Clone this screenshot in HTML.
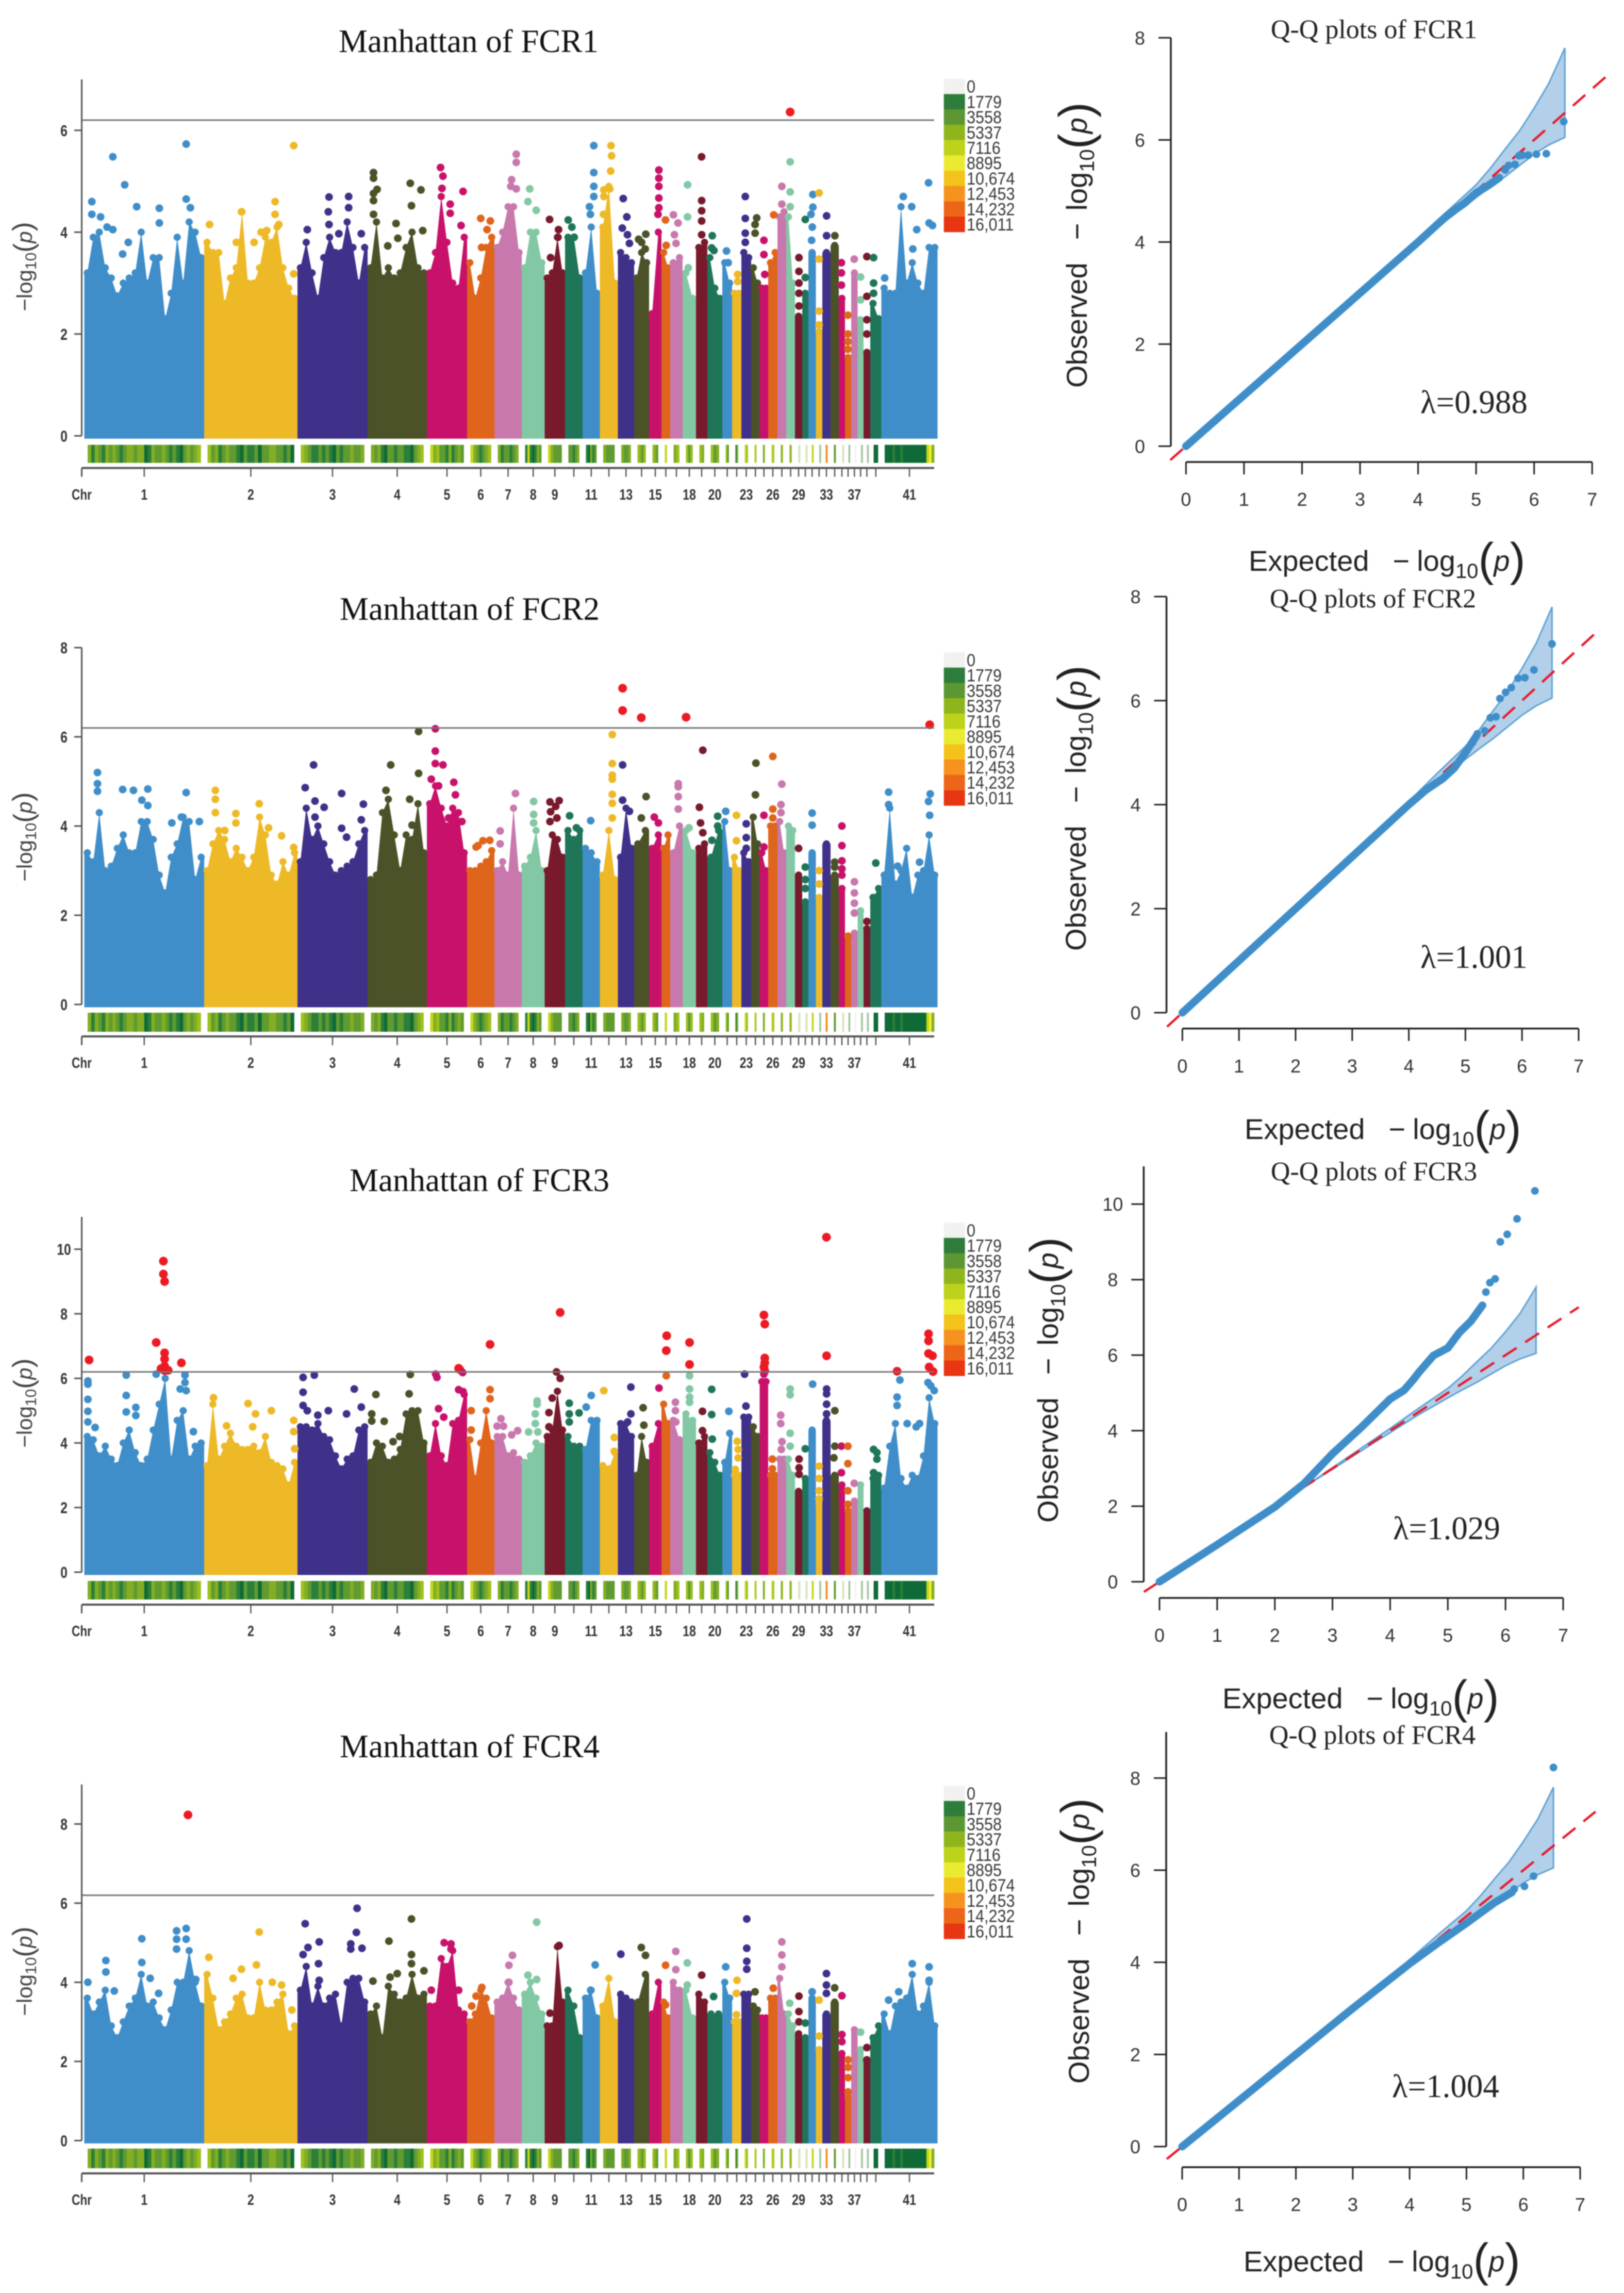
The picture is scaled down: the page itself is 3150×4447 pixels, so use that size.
<!DOCTYPE html>
<html lang="en">
<head>
<meta charset="utf-8">
<title>Manhattan and Q-Q plots of FCR1-FCR4</title>
<style>
html,body{margin:0;padding:0;background:#fff;}
svg{display:block;filter:blur(1px);}
.title{font-family:"Liberation Serif",serif;font-size:63px;fill:#111;}
.qqtitle{font-family:"Liberation Serif",serif;font-size:52px;fill:#222;}
.lambda{font-family:"Liberation Serif",serif;font-size:63px;fill:#222;}
.ylab{font-family:"Liberation Sans",sans-serif;font-size:42px;fill:#444;}
.qqlab{font-family:"Liberation Sans",sans-serif;font-size:56px;fill:#222;}
</style>
</head>
<body>
<svg id="figure" xmlns="http://www.w3.org/2000/svg" width="3150" height="4447" viewBox="0 0 3150 4447">
<rect x="0" y="0" width="3150" height="4447" fill="#ffffff"/>
<text class="title" x="909" y="101" text-anchor="middle">Manhattan of FCR1</text>
<text class="title" x="911" y="1202" text-anchor="middle">Manhattan of FCR2</text>
<text class="title" x="930" y="2310" text-anchor="middle">Manhattan of FCR3</text>
<text class="title" x="911" y="3408" text-anchor="middle">Manhattan of FCR4</text>

<text class="ylab" transform="translate(62,517) rotate(-90)" text-anchor="middle">−log<tspan font-size="30" dy="8">10</tspan><tspan font-size="54" dy="-6">(</tspan><tspan font-style="italic" dy="-2">p</tspan><tspan font-size="54">)</tspan></text>
<text class="ylab" transform="translate(62,1623) rotate(-90)" text-anchor="middle">−log<tspan font-size="30" dy="8">10</tspan><tspan font-size="54" dy="-6">(</tspan><tspan font-style="italic" dy="-2">p</tspan><tspan font-size="54">)</tspan></text>
<text class="ylab" transform="translate(62,2721) rotate(-90)" text-anchor="middle">−log<tspan font-size="30" dy="8">10</tspan><tspan font-size="54" dy="-6">(</tspan><tspan font-style="italic" dy="-2">p</tspan><tspan font-size="54">)</tspan></text>
<text class="ylab" transform="translate(62,3823) rotate(-90)" text-anchor="middle">−log<tspan font-size="30" dy="8">10</tspan><tspan font-size="54" dy="-6">(</tspan><tspan font-style="italic" dy="-2">p</tspan><tspan font-size="54">)</tspan></text>

<text class="qqtitle" x="2665" y="74" text-anchor="middle">Q-Q plots of FCR1</text>
<text class="qqtitle" x="2663" y="1178" text-anchor="middle">Q-Q plots of FCR2</text>
<text class="qqtitle" x="2665" y="2289" text-anchor="middle">Q-Q plots of FCR3</text>
<text class="qqtitle" x="2662" y="3382" text-anchor="middle">Q-Q plots of FCR4</text>

<text class="lambda" x="2755" y="801">λ=0.988</text>
<text class="lambda" x="2755" y="1877">λ=1.001</text>
<text class="lambda" x="2702" y="2985">λ=1.029</text>
<text class="lambda" x="2700" y="4067">λ=1.004</text>

<text class="qqlab" x="2422" y="1107">Expected<tspan dx="46">−</tspan><tspan dx="14">log</tspan><tspan font-size="40" dy="14">10</tspan><tspan font-size="90" dy="-5">(</tspan><tspan font-style="italic" dy="-9">p</tspan><tspan font-size="90" dy="9">)</tspan></text>
<text class="qqlab" x="2414" y="2209">Expected<tspan dx="46">−</tspan><tspan dx="14">log</tspan><tspan font-size="40" dy="14">10</tspan><tspan font-size="90" dy="-5">(</tspan><tspan font-style="italic" dy="-9">p</tspan><tspan font-size="90" dy="9">)</tspan></text>
<text class="qqlab" x="2371" y="3313">Expected<tspan dx="46">−</tspan><tspan dx="14">log</tspan><tspan font-size="40" dy="14">10</tspan><tspan font-size="90" dy="-5">(</tspan><tspan font-style="italic" dy="-9">p</tspan><tspan font-size="90" dy="9">)</tspan></text>
<text class="qqlab" x="2412" y="4405">Expected<tspan dx="46">−</tspan><tspan dx="14">log</tspan><tspan font-size="40" dy="14">10</tspan><tspan font-size="90" dy="-5">(</tspan><tspan font-style="italic" dy="-9">p</tspan><tspan font-size="90" dy="9">)</tspan></text>

<text class="qqlab" transform="translate(2108,752) rotate(-90)">Observed<tspan dx="44">−</tspan><tspan dx="24">log</tspan><tspan font-size="40" dy="14">10</tspan><tspan font-size="90" dy="-5">(</tspan><tspan font-style="italic" dy="-9">p</tspan><tspan font-size="90" dy="9">)</tspan></text>
<text class="qqlab" transform="translate(2106,1844) rotate(-90)">Observed<tspan dx="44">−</tspan><tspan dx="24">log</tspan><tspan font-size="40" dy="14">10</tspan><tspan font-size="90" dy="-5">(</tspan><tspan font-style="italic" dy="-9">p</tspan><tspan font-size="90" dy="9">)</tspan></text>
<text class="qqlab" transform="translate(2052,2953) rotate(-90)">Observed<tspan dx="44">−</tspan><tspan dx="24">log</tspan><tspan font-size="40" dy="14">10</tspan><tspan font-size="90" dy="-5">(</tspan><tspan font-style="italic" dy="-9">p</tspan><tspan font-size="90" dy="9">)</tspan></text>
<text class="qqlab" transform="translate(2112,4041) rotate(-90)">Observed<tspan dx="44">−</tspan><tspan dx="24">log</tspan><tspan font-size="40" dy="14">10</tspan><tspan font-size="90" dy="-5">(</tspan><tspan font-style="italic" dy="-9">p</tspan><tspan font-size="90" dy="9">)</tspan></text>
</svg>

<script>
/* ---------- shared data ---------- */
const chrSizes = [232.5,181,136,115,78,53,53,44.5,39.5,34,33.5,35,31.5,29,24,17,24,26,22,29,19,18,19,16.5,16.5,18,17,17,14,12,14.5,12.5,16,16,12,12,12.5,11.5,13,21.5,109];
const chrColors = ["#3f8ec9","#eeb927","#3f308a","#4b5228","#c8116a","#df651c","#c878ad","#82c8a4","#781a2c","#1f7558"];
const chrLabels = ["1","2","3","4","5","6","7","8","9","","11","","13","","15","","","18","","20","","","23","","","26","","","29","","","","33","","","","37","","","","41"];
const significanceLine = 6.2;
const legendLabels = ["0","1779","3558","5337","7116","8895","10,674","12,453","14,232","16,011"];
const legendColors = ["#f1f1ef","#2e7d3a","#5c9733","#8fb51d","#bdd21a","#eaea30","#f3c31b","#f6921e","#ec6518","#e83512"];
const stripColors = ["#f4f4f2","#0e6a36","#2b7f38","#5f9b30","#82ad24","#9cc01e","#c3d61c","#eeee30","#f28c1c","#e95a1a","#d5e3ba","#a6c59f"];
const stripDensity = [
[4,2,4,3,2,4,3,4,3,2,3,4,4,3,4,4,1,2,4,3,3,4,3,2,3,2,1,3,4,3,4,5],
[5,3,4,2,3,4,3,3,2,1,3,2,2,3,1,3,3,4,4,3,3,2,3,1],
[5,4,3,2,2,3,2,3,2,1,3,2,3,3,4,3,3,4],
[4,3,4,2,1,3,3,2,3,3,2,2,1,3,4,5],
[6,4,5,3,3,2,4,2,3,4,3],
[6,4,3,2,3,4,5],[4,2,3,3,2,3,4],[2,6,2,1,2,4,3],[6,4,3,3,3],[3,3,2,3,4],[2,1,4,2,3],[4,3,3,3],[4,3,3,4],[5,4,3,5],[5,4,3],
[6],[4,5],[5,3,5],[5,4],[5,3,4],[5,3],[2,4],[6,5],[6,5],[3,5],[6,5],[4,5],[4,5],
[10],[10],[6],[11],[8],[3],[10],[11],[0],[11],[11],[1],
[1,1,1,2,1,1,2,1,1,1,1,1,1,1,1,1,6,7,4]
];

/* ---------- FCR1 Manhattan ---------- */
const fcr1Ticks = [0,2,4,6];
const fcr1Columns = [
[3.2,3.9,4.0,3.3,3.1,2.75,3.0,3.1,3.2,4.0,3.0,3.5,3.5,2.3,2.8,3.9,3.0,4.2,4.0,3.5],
[3.8,3.6,3.6,2.6,3.1,3.3,4.4,3.0,3.0,3.3,3.9,3.8,4.1,3.3,2.9,2.7],
[3.3,3.8,3.2,2.7,3.5,3.9,3.6,3.6,4.2,3.7,3.0,3.7],
[3.3,4.2,3.1,3.3,3.1,3.2,3.7,4.0,3.3,3.2],
[3.2,3.6,4.7,3.8,3.0,2.9,3.9],
[3.4,2.7,3.1,3.7,3.9],[3.7,4.0,4.5,4.5,3.6],[3.3,4.0,4.0,3.4],[3.1,3.2,3.9,3.2],[3.9,3.9,3.1],[3.2,4.1,2.8],[4.1,4.9,3.0],[3.6,3.5,3.4],[3.1,3.6,3.4],[2.4,4.0],[3.6,3.3],[3.4,3.5],[3.2,2.7],[3.7,3.8],[3.5,2.9,2.7],[3.4,3.0],[2.8,2.8],[3.6,3.5],[3.3,3.0],[2.9,2.9],[3.4,3.6],[4.3,4.4],[4.3,3.0],
[2.35],[2.8],[3.6],[2.05],[3.6],[3.74],[2.7],[1.54],[3.2],[2.28],[1.64],[2.6,2.3],
[2.9,2.8,2.8,4.5,3.0,3.4,3.0,2.8,3.7,3.7]
];
const fcr1Snps = [
[1,.063,4.6],[1,.063,4.35],[1,.238,5.48],[1,.337,4.93],[1,.437,4.5],[1,.626,4.47],[1,.626,4.18],[1,.85,5.73],[1,.85,4.65],[1,.885,4.48],[1,.19,4.1],[1,.238,4.05],[1,.367,3.8],[1,.32,3.57],[1,.136,4.3],
[2,.058,4.15],[2,.4,4.4],[2,.76,4.6],[2,.76,4.35],[2,.96,5.7],[2,.96,3.18],[2,.61,4.0],[2,.67,4.03],[2,.8,4.15],[2,.535,3.8],[2,.345,3.8],
[3,.45,4.69],[3,.44,4.4],[3,.14,4.05],[3,.73,4.7],[3,.73,4.48],[3,.59,3.97],[3,.91,3.97],[3,.45,4.15],
[4,.1,5.17],[4,.1,5.06],[4,.16,4.84],[4,.1,4.76],[4,.1,4.62],[4,.1,4.35],[4,.72,4.96],[4,.9,4.83],[4,.74,4.52],[4,.48,4.17],[4,.93,4.03],[4,.51,3.88],[4,.34,3.73],
[5,.34,5.27],[5,.4,5.1],[5,.375,4.86],[5,.9,4.8],[5,.58,4.55],[5,.58,4.37],[5,.85,4.13],
[6,.5,4.27],[6,.85,4.22],[6,.73,4.05],[6,.53,3.7],
[7,.8,5.53],[7,.8,5.37],[7,.63,5.03],[7,.6,4.9],[7,.8,4.85],
[8,.35,4.85],[8,.27,4.6],[8,.63,4.43],
[9,.24,4.25],[9,.68,4.05],[9,.65,3.9],[9,.29,3.5],
[10,.18,4.24],[10,.39,4.1],[10,.52,3.9],
[11,.65,5.7],[11,.65,5.17],[11,.65,4.9],[11,.65,4.7],[11,.4,4.5],[11,.45,4.35],
[12,.62,5.7],[12,.65,5.5],[12,.6,5.2],[12,.22,4.83],[12,.22,4.7],[12,.55,4.85],[12,.2,4.35],
[13,.33,4.66],[13,.55,4.3],[13,.27,4.08],[13,.59,3.95],[13,.71,3.78],
[14,.78,3.96],[14,.3,3.86],[14,.5,3.8],[14,.74,3.67],
[15,.79,5.22],[15,.79,5.06],[15,.79,4.9],[15,.79,4.67],[15,.79,4.48],[15,.72,4.35],
[16,.46,4.24],[16,.54,3.74],
[17,.26,4.34],[17,.63,4.18],[17,.34,3.95],[17,.47,3.78],
[18,.37,4.93],[18,.37,4.3],[18,.42,3.3],
[19,.49,5.48],[19,.5,4.62],[19,.5,4.42],[19,.5,4.22],[19,.5,3.95],
[20,.33,3.93],[20,.29,3.69],[20,.44,3.64],
[21,.43,3.63],[21,.6,3.4],
[22,.6,3.17],[22,.6,3.03],
[23,.4,4.7],[23,.4,4.27],[23,.4,3.98],[23,.4,3.8],
[24,.65,4.28],[24,.46,4.15],[24,.46,3.98],
[25,.5,3.84],[25,.5,3.56],[25,.6,3.17],
[26,.6,4.34],
[27,.5,4.9],[27,.5,4.55],
[28,.45,6.36],[28,.45,5.38],[28,.45,4.79],[28,.45,4.5],
[29,.55,3.5],[29,.55,3.23],[29,.55,3.0],[29,.55,2.8],[29,.55,2.55],
[30,.5,4.25],[30,.5,3.11],
[31,.6,4.74],[31,.6,4.49],[31,.35,4.35],[31,.52,4.1],[31,.43,3.84],
[32,.5,4.77],[32,.5,3.47],[32,.5,2.45],[32,.5,2.18],
[33,.52,4.32],[33,.52,3.93],
[34,.52,3.93],
[35,.42,3.4],[35,.42,3.2],[35,.42,2.96],
[36,.47,2.37],[36,.47,2.0],[36,.47,1.85],[36,.47,1.7],
[37,.47,3.47],
[38,.5,3.12],[38,.5,2.67],
[39,.5,3.52],[39,.5,2.74],[39,.5,2.28],[39,.5,2.0],
[40,.3,3.5],[40,.3,3.0],[40,.3,2.8],
[41,.39,4.7],[41,.54,4.5],[41,.84,4.97],[41,.63,4.05],[41,.85,4.18],[41,.91,4.13],[41,.56,3.67],[41,.06,3.1]
];

/* ---------- FCR2 Manhattan ---------- */
const fcr2Ticks = [0,2,4,6,8];
const fcr2Columns = [
[3.4,3.2,4.3,3.0,3.1,3.5,3.8,3.4,3.4,4.1,4.1,3.7,2.9,2.5,3.3,3.6,4.2,4.1,2.8,3.3],
[3.0,3.6,3.9,3.7,3.2,3.5,3.3,3.0,3.3,4.2,3.8,2.9,2.7,3.2,2.9,3.4],
[3.2,4.4,3.7,4.0,3.6,3.2,2.9,3.0,3.1,3.2,3.6,3.9],
[2.8,2.9,4.3,4.6,3.8,3.0,3.8,3.7,4.5,3.4],
[4.5,4.9,4.4,4.0,4.4,4.3,3.4],
[3.0,3.0,3.1,3.2,3.45],[3.0,3.2,2.9,4.4,2.9],[3.1,3.3,3.9,3.0],[3.0,3.8,3.7,3.3],[3.9,3.7,3.9],[3.5,3.4,3.2],[2.9,3.9,2.8],[3.3,4.4,3.5],[3.6,3.9],[3.5,3.8],[3.5,3.8],[3.4,4.0],[3.9,3.4],[3.5,3.6],[3.3,3.9],[4.1,3.0],[3.3,3.0],[3.4,3.2],[4.2,3.6],[3.4,3.0],[4.0,4.0],[4.1,3.4],[4.0,3.9],
[2.9],[2.3],[3.4],[2.4],[3.6],[2.9],[2.6],[1.5],[1.6],[2.1],[1.7],[2.4,2.6],
[2.9,4.4,2.7,3.0,3.5,2.4,2.9,3.0,3.8,2.9]
];
const fcr2Snps = [
[1,.11,5.2],[1,.11,4.95],[1,.11,4.78],[1,.32,4.82],[1,.41,4.8],[1,.53,4.83],[1,.48,4.58],[1,.53,4.46],[1,.85,4.75],[1,.96,4.1],[1,.73,4.07],[1,.81,4.2],
[2,.12,4.8],[2,.12,4.6],[2,.34,4.28],[2,.59,4.5],[2,.69,3.96],[2,.83,3.78],[2,.12,4.3],[2,.34,4.07],[2,.96,3.52],[2,.22,3.9],
[3,.23,5.37],[3,.11,4.86],[3,.63,4.73],[3,.25,4.56],[3,.38,4.42],[3,.94,4.49],[3,.25,4.2],[3,.63,3.95],[3,.7,3.75],[3,.91,4.14],
[4,.39,5.37],[4,.86,6.12],[4,.86,5.18],[4,.31,4.8],[4,.71,4.6],[4,.75,4.02],
[5,.21,6.18],[5,.21,5.68],[5,.21,5.4],[5,.4,5.37],[5,.11,5.05],[5,.67,4.98],[5,.29,4.9],[5,.71,4.7],[5,.54,4.18],[5,.87,4.1],
[6,.4,3.56],[6,.58,3.67],[6,.83,3.68],[6,.33,3.53],
[7,.77,4.73],[7,.21,3.89],[7,.21,3.6],
[8,.52,4.55],[8,.52,4.26],[8,.52,4.07],
[9,.26,4.54],[9,.71,4.57],[9,.54,4.44],[9,.29,4.32],[9,.6,4.18],[9,.26,4.1],
[10,.26,4.23],[10,.65,3.96],[10,.42,3.67],
[11,.47,4.12],
[12,.69,6.05],[12,.69,5.4],[12,.69,5.14],[12,.69,5.05],[12,.69,4.71],[12,.69,4.51],[12,.69,4.18],
[13,.29,7.09],[13,.29,6.59],[13,.29,5.37],[13,.71,4.33],[13,.29,4.58],
[14,.48,6.43],[14,.8,4.66],[14,.48,4.18],
[15,.42,4.2],[15,.75,4.07],
[17,.65,4.95],[17,.65,4.88],[17,.65,4.66],[17,.65,4.38],
[18,.26,6.44],[18,.48,3.96],
[19,.6,5.7],[19,.3,4.42],[19,.4,4.07],[19,.6,3.85],
[20,.69,4.22],[20,.69,4.0],[20,.31,3.68],
[21,.35,4.33],
[22,.47,4.24],[22,.47,3.67],
[23,.5,4.05],[23,.5,3.74],[23,.5,3.5],
[24,.56,5.41],[24,.5,4.7],
[25,.5,4.24],[25,.5,3.53],
[26,.5,5.56],[26,.5,4.38],[26,.5,4.18],
[27,.5,4.94],[27,.4,4.48],[27,.4,4.3],
[29,.5,3.5],
[30,.5,3.08],[30,.5,2.8],[30,.5,2.6],
[31,.5,4.29],[31,.5,4.02],
[32,.5,3.0],[32,.5,2.7],
[34,.5,3.19],[34,.5,3.08],
[35,.5,4.0],[35,.5,3.56],[35,.5,3.22],[35,.5,3.04],[35,.5,2.9],
[36,.5,1.53],
[37,.5,2.75],[37,.5,2.5],[37,.5,2.27],[37,.5,2.05],
[39,.5,1.86],
[40,.5,3.17],
[41,.13,4.76],[41,.13,4.48],[41,.87,4.72],[41,.84,4.55],[41,.86,4.24],[41,.86,6.27],[41,.68,3.19],[41,.29,3.1]
];

/* ---------- FCR3 Manhattan ---------- */
const fcr3Ticks = [0,2,4,6,8,10];
const fcr3Columns = [
[4.2,4.1,3.6,3.9,3.5,3.3,4.0,4.4,3.7,3.3,3.5,4.4,5.2,6.0,3.5,4.7,5.0,3.5,3.9,4.0],
[3.3,5.2,3.5,3.9,4.3,3.9,3.8,3.8,3.9,3.7,4.2,3.4,3.3,3.2,2.7,3.4],
[4.5,4.5,4.4,4.6,4.2,4.1,3.6,3.2,3.5,3.6,4.4,4.5],
[3.4,4.0,3.9,3.4,3.5,3.8,4.9,5.0,5.0,4.0],
[3.6,4.6,3.6,3.3,4.6,4.7,5.5],
[4.1,2.9,4.0,5.0,4.0],[4.2,4.2,3.6,3.7,3.5],[3.4,3.6,4.0,3.9],[4.2,4.4,5.6,4.4],[4.2,3.9,3.9],[3.8,4.7,4.7],[3.3,3.2,3.7],[4.6,4.6,4.2],[3.0,4.2,3.4],[3.9,4.6],[5.2,4.6],[4.7,4.1],[4.9,4.7],[4.0,4.2],[3.7,3.4,3.0],[3.4,4.3],[3.0,3.0],[4.8,4.8],[4.5,4.2],[5.9,5.9],[3.0,3.0],[3.5,3.5],[3.5,3.0],
[2.5],[2.9],[4.4],[2.1],[4.7],[3.0],[2.7],[1.9],[2.2],[2.7],[1.9],[2.9,3.0],
[2.6,3.9,4.6,2.9,2.6,3.0,2.9,3.6,5.4,4.6]
];
const fcr3Snps = [
[1,.04,6.57],[1,.66,9.63],[1,.66,9.23],[1,.67,9.0],[1,.6,7.11],[1,.67,6.79],[1,.67,6.6],[1,.81,6.48],[1,.67,6.38],[1,.64,6.3],[1,.7,6.25],[1,.67,6.24],[1,.03,5.92],[1,.03,5.82],[1,.03,5.35],[1,.03,4.98],[1,.03,4.65],[1,.35,6.1],[1,.35,5.47],[1,.35,4.96],[1,.43,5.1],[1,.43,4.85],[1,.6,6.13],[1,.84,6.1],[1,.84,5.87],[1,.85,5.62],[1,.8,5.67],[1,.91,4.35],[1,.09,4.48],
[2,.1,5.4],[2,.47,5.22],[2,.72,5.0],[2,.55,4.9],[2,.52,4.5],[2,.96,4.7],[2,.96,4.35],[2,.97,3.82],[2,.24,4.53],
[3,.08,6.03],[3,.24,6.1],[3,.08,5.57],[3,.08,5.16],[3,.14,5.0],[3,.81,5.67],[3,.91,5.11],[3,.44,5.0],[3,.7,4.9],[3,.29,4.86],
[4,.72,6.12],[4,.7,5.52],[4,.14,5.5],[4,.07,4.9],[4,.07,4.68],[4,.28,4.67],[4,.43,4.04],[4,.54,4.2],
[5,.22,6.13],[5,.25,6.03],[5,.79,6.31],[5,.82,6.27],[5,.89,6.18],[5,.79,5.65],[5,.9,5.59],[5,.29,5.06],[5,.42,4.8],
[6,.84,7.05],[6,.84,5.65],[6,.84,5.37],[6,.15,5.0],[6,.15,4.4],
[7,.24,4.75],[7,.1,4.52],[7,.33,4.52],[7,.85,4.38],[7,.63,4.25],
[8,.67,5.3],[8,.67,5.2],[8,.59,4.9],[8,.59,4.6],[8,.3,4.34],[8,.7,4.34],
[9,.76,8.04],[9,.58,6.2],[9,.76,6.0],[9,.37,5.39],[9,.21,4.94],[9,.21,4.5],
[10,.24,5.23],[10,.24,4.9],[10,.24,4.65],[10,.8,4.93],
[11,.21,5.11],[11,.5,5.47],
[12,.22,5.62],[12,.8,4.17],[12,.8,3.74],
[13,.8,5.73],[13,.8,4.9],[13,.6,4.65],
[14,.6,5.09],[14,.65,4.55],
[15,.8,5.7],
[16,.6,7.32],[16,.55,6.86],[16,.55,6.08],
[17,.42,5.26],[17,.42,5.0],[17,.45,4.65],
[18,.52,7.11],[18,.52,6.43],[18,.52,6.08],[18,.52,5.67],[18,.52,5.42],[18,.52,5.26],
[19,.57,4.98],[19,.57,4.38],
[20,.29,5.66],[20,.29,4.88],[20,.33,4.12],
[21,.67,4.98],
[22,.55,4.05],[22,.65,3.8],[22,.65,3.54],[22,.35,3.18],
[23,.33,6.13],[23,.47,5.14],
[25,.5,7.96],[25,.6,7.68],[25,.6,6.63],[25,.6,6.48],[25,.5,6.35],[25,.6,6.23],[25,.5,6.13],
[26,.45,3.5],[26,.45,3.2],
[27,.37,4.86],[27,.37,4.6],[27,.52,4.04],[27,.44,3.8],
[28,.45,5.67],[28,.45,5.49],[28,.45,4.3],[28,.45,3.9],
[29,.57,3.5],[29,.57,3.23],[29,.57,3.03],
[30,.5,3.82],
[31,.57,5.82],
[32,.5,3.28],[32,.5,2.9],[32,.5,2.52],[32,.5,2.27],
[33,.5,10.37],[33,.52,6.7],[33,.52,5.67],[33,.52,5.52],[33,.52,5.2],[33,.52,4.9],
[34,.52,5.0],[34,.52,3.9],[34,.4,3.54],
[35,.42,3.9],[35,.42,3.08],
[36,.47,3.9],[36,.47,3.36],[36,.47,2.52],[36,.47,2.1],
[37,.47,2.75],
[40,.3,3.8],[40,.6,3.7],[40,.3,3.08],[40,.6,3.5],
[41,.33,5.95],[41,.28,5.42],[41,.28,5.16],[41,.46,4.6],[41,.62,4.5],[41,.68,4.6],[41,.83,5.87],[41,.88,5.77],[41,.28,6.22],[41,.84,7.38],[41,.84,7.16],[41,.84,6.77],[41,.91,6.7],[41,.85,6.35],[41,.92,6.21],[41,.94,5.62]
];

/* ---------- FCR4 Manhattan ---------- */
const fcr4Ticks = [0,2,4,6,8];
const fcr4Columns = [
[3.6,3.2,3.5,3.8,2.9,2.6,3.0,3.4,3.6,4.2,3.4,3.5,3.1,2.8,3.3,4.0,4.0,4.8,4.0,3.4],
[4.2,3.6,2.8,3.0,3.2,3.6,3.7,3.1,3.1,4.0,3.3,3.3,3.5,3.7,2.7,2.9],
[3.8,4.4,3.4,3.9,3.4,3.6,3.7,2.9,4.0,4.1,4.1,3.5],
[3.2,3.4,2.6,3.9,3.7,3.5,3.6,4.2,3.6,3.7],
[3.4,3.4,4.6,4.4,4.8,3.3,3.2],
[3.0,3.2,3.8,3.6,3.1],[3.5,3.6,4.0,3.6,3.3],[3.7,4.0,3.6,3.2],[2.9,2.9,4.9,3.5],[3.8,3.4,2.6],[3.6,3.8,3.1],[3.4,4.1,3.0],[3.7,3.6,3.5],[3.5,4.2],[3.2,4.0],[3.5,3.1],[4.0,3.8],[3.8,3.1],[3.7,3.5],[3.2,3.2],[4.0,3.6],[3.0,3.0],[3.7,3.7],[3.4,3.3],[3.1,3.1],[3.6,3.6],[4.1,3.2],[3.2,2.9],
[2.7],[2.6],[3.6],[2.3],[3.2],[3.5],[2.2],[1.1],[2.8],[2.3],[2.0],[2.6,2.9],
[3.2,2.7,3.4,3.5,3.6,4.2,3.2,3.4,4.0,2.9]
];
const fcr4Snps = [
[1,.865,8.23],[1,.85,5.36],[1,.77,5.3],[1,.77,5.09],[1,.77,4.84],[1,.85,5.09],[1,.48,5.1],[1,.48,4.5],[1,.18,4.55],[1,.18,4.26],[1,.03,4.0],[1,.55,4.1],[1,.25,3.78],[1,.62,3.72],[1,.93,4.07],
[2,.05,4.63],[2,.59,5.27],[2,.56,4.44],[2,.4,4.33],[2,.31,4.1],[2,.73,4.0],[2,.83,3.93],[2,.94,3.3],
[3,.85,5.87],[3,.11,5.48],[3,.84,5.26],[3,.31,5.02],[3,.76,4.97],[3,.92,4.86],[3,.76,4.84],[3,.15,4.88],[3,.08,4.7],[3,.3,4.47],[3,.31,4.05],
[4,.74,5.6],[4,.36,5.04],[4,.74,4.7],[4,.74,4.47],[4,.09,4.03],[4,.5,4.22],[4,.95,4.29],[4,.38,4.13],
[5,.43,5.0],[5,.6,4.97],[5,.6,4.84],[5,.11,3.8],[5,.79,3.8],
[6,.54,3.87],[6,.33,3.65],[6,.17,3.4],
[7,.66,4.68],[7,.53,4.43],[7,.53,4.0],
[8,.65,5.52],[8,.27,4.18],[8,.65,4.07],
[9,.71,4.93],[9,.26,3.22],
[11,.73,4.44],[11,.47,3.8],
[13,.18,4.71],
[14,.48,4.88],[14,.76,4.68],
[16,.47,4.43],[16,.47,3.43],
[17,.45,4.78],[17,.45,4.32],
[18,.35,4.49],[18,.35,3.93],
[19,.5,4.18],
[20,.42,3.64],
[21,.35,4.39],
[22,.53,4.05],[22,.47,3.72],[22,.47,3.18],
[23,.55,5.6],[23,.55,4.86],[23,.55,4.53],[23,.55,4.33],
[24,.45,3.76],
[26,.55,3.85],
[27,.5,5.02],[27,.5,4.69],[27,.5,4.39],
[28,.4,3.47],
[29,.55,3.65],[29,.55,3.26],[29,.55,3.0],
[30,.5,2.97],
[31,.5,3.76],
[32,.5,3.55],[32,.5,2.64],
[33,.5,4.22],[33,.5,3.93],[33,.5,3.72],
[34,.5,3.86],
[35,.5,3.66],[35,.5,2.68],[35,.5,2.5],
[36,.5,2.04],[36,.5,1.85],[36,.5,1.59],[36,.5,1.23],
[38,.5,2.74],
[39,.5,2.35],[39,.5,2.04],
[41,.55,4.47],[41,.85,4.39],[41,.13,3.55],[41,.31,3.76],[41,.85,4.05]
];

/* ---------- Q-Q data ---------- */
const ciExpected = [2.5,3,3.5,4,4.5,5,5.25,5.5,5.75,6,6.25,6.53];
const ciUpper = [2.5,3.02,3.54,4.06,4.6,5.12,5.45,5.82,6.18,6.62,7.1,7.8];
const ciLower = [2.5,2.98,3.47,3.95,4.43,4.87,5.08,5.28,5.5,5.72,5.9,6.05];

const qq1LineExpected = [0,1,2,3,4,4.5,4.8,5,5.2,5.4];
const qq1LineObserved = [0,1,2,3,4,4.52,4.76,4.96,5.1,5.26];
const qq1TailExpected = [5.5,5.56,5.67,5.74,5.8,5.9,6.04,6.21,6.51];
const qq1TailObserved = [5.41,5.5,5.52,5.69,5.7,5.7,5.72,5.73,6.36];

const qq2LineExpected = [0,1,2,3,4,4.3,4.6,4.8,5,5.2];
const qq2LineObserved = [0,1,2,3,4,4.28,4.5,4.7,5,5.33];
const qq2TailExpected = [5.21,5.34,5.44,5.54,5.61,5.71,5.81,5.93,6.05,6.21,6.53];
const qq2TailObserved = [5.36,5.42,5.67,5.69,6.04,6.16,6.25,6.43,6.44,6.59,7.09];

const qq3LineExpected = [0,1,2,2.5,3,3.5,4,4.24,4.4,4.5,4.75,5,5.2,5.4,5.6];
const qq3LineObserved = [0,.98,1.98,2.59,3.39,4.09,4.84,5.07,5.35,5.55,5.99,6.19,6.6,6.9,7.32];
const qq3TailExpected = [5.66,5.73,5.82,5.91,6.03,6.2,6.51];
const qq3TailObserved = [7.67,7.92,8.02,9.0,9.2,9.61,10.35];

const qq4LineExpected = [0,1,2,3,4,4.5,5,5.5,5.8];
const qq4LineObserved = [0,1,2,3,3.97,4.42,4.85,5.3,5.52];
const qq4TailExpected = [5.84,6.02,6.18,6.53];
const qq4TailObserved = [5.59,5.65,5.87,8.23];

const qq1YTicks = [0,2,4,6,8];
const qq2YTicks = [0,2,4,6,8];
const qq3YTicks = [0,2,4,6,8,10];
const qq4YTicks = [0,2,4,6,8];
const qqXTicks = [0,1,2,3,4,5,6,7];

/* ---------- drawing ---------- */
const NS = "http://www.w3.org/2000/svg";
const figure = document.getElementById("figure");

function mk(parent, tag, attrs) {
  const e = document.createElementNS(NS, tag);
  for (const k in attrs) e.setAttribute(k, attrs[k]);
  parent.appendChild(e);
  return e;
}

const chrTotal = chrSizes.reduce((a, b) => a + b, 0);
const chrOffsets = [];
chrSizes.reduce((acc, s, i) => { chrOffsets[i] = acc; return acc + s; }, 0);
const mhLeft = 163.5, mhRight = 1818.5;
function mhX(chrIndex, frac) {
  return mhLeft + (chrOffsets[chrIndex] + frac * chrSizes[chrIndex]) * (mhRight - mhLeft) / chrTotal;
}

function drawManhattan(cfg) {
  const g = mk(figure, "g", {});
  
  
  const unit = (cfg.y0 - cfg.yTop) / cfg.maxVal;
  const mhY = v => cfg.y0 - v * unit;
  const axisColor = "#555";

  /* silhouette of the dense point cloud, one per chromosome */
  cfg.columns.forEach((vals, c) => {
    const color = chrColors[c % chrColors.length];
    const cg = mk(g, "g", { fill: color });
    
    
    const base = cfg.y0 + 5.5;
    const left = mhX(c, 0), right = mhX(c, 1);
    const outline = [left + "," + base, left + "," + mhY(vals[0])];
    vals.forEach((v, i) => {
      outline.push(mhX(c, (i + 0.5) / vals.length) + "," + mhY(v));
    });
    outline.push(right + "," + mhY(vals[vals.length - 1]), right + "," + base);
    const mass = mk(cg, "polygon", { points: outline.join(" ") });
    
    
    vals.forEach((v, i) => {
      const cap = mk(cg, "circle", { cx: mhX(c, (i + 0.5) / vals.length), cy: mhY(v), r: 7 });
      
      
    });
  });

  /* individually visible SNP points */
  cfg.snps.forEach(s => {
    const c = s[0] - 1;
    const hit = s[2] > significanceLine;
    const dot = mk(g, "circle", { cx: mhX(c, s[1]), cy: mhY(s[2]), r: hit ? 8.5 : 7.5, fill: hit ? "#ec1a22" : chrColors[c % chrColors.length] });
    
    
  });

  /* threshold */
  const th = mk(g, "line", { x1: 158.5, x2: 1812, y1: mhY(significanceLine), y2: mhY(significanceLine), stroke: "#777", "stroke-width": 3 });
  
  

  /* y axis */
  const ya = mk(g, "line", { x1: 158.5, x2: 158.5, y1: cfg.yTop, y2: cfg.y0, stroke: axisColor, "stroke-width": 3 });
  
  
  cfg.ticks.forEach(t => {
    const tick = mk(g, "line", { x1: 144, x2: 158.5, y1: mhY(t), y2: mhY(t), stroke: axisColor, "stroke-width": 3 });
    
    
    const lab = mk(g, "text", { transform: "translate(124," + (mhY(t) + 11) + ") scale(.8,1)", "text-anchor": "middle", "font-family": '"Liberation Sans",sans-serif', "font-weight": "bold", "font-size": 31, fill: "#333" });
    
    
    lab.textContent = t;
  });

  /* density strip */
  stripDensity.forEach((cells, c) => {
    const left = mhX(c, 0) + 6.5, width = Math.max(3.5, mhX(c, 1) - mhX(c, 0) - 13);
    const cellW = width / cells.length;
    cells.forEach((lvl, i) => {
      const cell = mk(g, "rect", { x: left + i * cellW, y: cfg.stripTop, width: cellW + 0.3, height: cfg.stripH, fill: stripColors[lvl] });
      
      
    });
  });

  /* x axis */
  const xa = mk(g, "line", { x1: 158.5, x2: 1812, y1: cfg.axisY, y2: cfg.axisY, stroke: axisColor, "stroke-width": 4 });
  
  
  const st = mk(g, "line", { x1: 158.5, x2: 158.5, y1: cfg.axisY, y2: cfg.axisY + 17, stroke: axisColor, "stroke-width": 3 });
  
  
  const chrText = mk(g, "text", { transform: "translate(158.5," + cfg.labelY + ") scale(.78,1)", "text-anchor": "middle", "font-family": '"Liberation Sans",sans-serif', "font-weight": "bold", "font-size": 29, fill: "#333" });
  
  
  chrText.textContent = "Chr";
  chrSizes.forEach((s, c) => {
    const x = mhX(c, 0.5);
    const tick = mk(g, "line", { x1: x, x2: x, y1: cfg.axisY, y2: cfg.axisY + 17, stroke: axisColor, "stroke-width": 2.5 });
    
    
    if (chrLabels[c]) {
      const lab = mk(g, "text", { transform: "translate(" + x + "," + cfg.labelY + ") scale(.8,1)", "text-anchor": "middle", "font-family": '"Liberation Sans",sans-serif', "font-weight": "bold", "font-size": 29, fill: "#333" });
      
      
      lab.textContent = chrLabels[c];
    }
  });

  /* legend */
  const boxH = 29.73;
  legendLabels.forEach((label, i) => {
    const y = cfg.legendTop + i * boxH;
    const box = mk(g, "rect", { x: 1830.7, y: y, width: 41, height: boxH + 0.3, fill: legendColors[i] });
    
    
    const txt = mk(g, "text", { transform: "translate(1875," + (y + boxH / 2 + 12) + ") scale(.9,1)", "font-family": '"Liberation Sans",sans-serif', "font-size": 34, fill: "#3a3a3a" });
    
    
    txt.textContent = label;
  });
}

function drawQQ(cfg) {
  const g = mk(figure, "g", {});
  
  
  const qqX = v => cfg.x0 + v * (cfg.x7 - cfg.x0) / 7;
  const qqY = v => cfg.y0 - v * (cfg.y0 - cfg.yTop) / cfg.maxVal;
  const ink = "#222";

  /* confidence band */
  const pts = ciExpected.map((e, i) => qqX(e) + "," + qqY(ciUpper[i]))
    .concat(ciExpected.map((e, i) => qqX(e) + "," + qqY(ciLower[i])).reverse()).join(" ");
  const band = mk(g, "polygon", { points: pts, fill: "#b2d0ea", stroke: "#5fa2d4", "stroke-width": 3 });
  
  

  /* reference line */
  const ref = mk(g, "line", { x1: qqX(-0.27), y1: qqY(-0.27), x2: qqX(7.27), y2: qqY(7.27), stroke: "#e8192c", "stroke-width": 4.5, "stroke-dasharray": "32 20" });
  
  

  /* observed points */
  const linePts = cfg.lineE.map((e, i) => qqX(e) + "," + qqY(cfg.lineO[i])).join(" ");
  const band2 = mk(g, "polyline", { points: linePts, fill: "none", stroke: "#3f8ec9", "stroke-width": 15, "stroke-linecap": "round", "stroke-linejoin": "round" });
  
  
  cfg.tailE.forEach((e, i) => {
    const dot = mk(g, "circle", { cx: qqX(e), cy: qqY(cfg.tailO[i]), r: 7.5, fill: "#3f8ec9" });
    
    
  });

  /* axes */
  const ya = mk(g, "line", { x1: cfg.axisX, x2: cfg.axisX, y1: cfg.axisTop, y2: cfg.y0, stroke: ink, "stroke-width": 3.5 });
  
  
  cfg.yTicks.forEach(t => {
    const tick = mk(g, "line", { x1: cfg.axisX - 24, x2: cfg.axisX, y1: qqY(t), y2: qqY(t), stroke: ink, "stroke-width": 3 });
    
    
    const lab = mk(g, "text", { x: cfg.axisX - 60, y: qqY(t) + 13, "text-anchor": "middle", "font-family": '"Liberation Sans",sans-serif', "font-size": 36, fill: "#333" });
    
    
    lab.textContent = t;
  });
  const xa = mk(g, "line", { x1: qqX(0), x2: qqX(7), y1: cfg.axisY, y2: cfg.axisY, stroke: ink, "stroke-width": 3.5 });
  
  
  qqXTicks.forEach(t => {
    const tick = mk(g, "line", { x1: qqX(t), x2: qqX(t), y1: cfg.axisY, y2: cfg.axisY + 24, stroke: ink, "stroke-width": 3 });
    
    
    const lab = mk(g, "text", { x: qqX(t), y: cfg.axisY + 85, "text-anchor": "middle", "font-family": '"Liberation Sans",sans-serif', "font-size": 36, fill: "#333" });
    
    
    lab.textContent = t;
  });
}

drawManhattan({ name: "fcr1", columns: fcr1Columns, snps: fcr1Snps, ticks: fcr1Ticks, y0: 845.3, yTop: 154, maxVal: 7, stripTop: 862.7, stripH: 35, axisY: 907.6, labelY: 969, legendTop: 152.7 });
drawManhattan({ name: "fcr2", columns: fcr2Columns, snps: fcr2Snps, ticks: fcr2Ticks, y0: 1948, yTop: 1256, maxVal: 8, stripTop: 1964, stripH: 37, axisY: 2010, labelY: 2071, legendTop: 1265 });
drawManhattan({ name: "fcr3", columns: fcr3Columns, snps: fcr3Snps, ticks: fcr3Ticks, y0: 3049, yTop: 2360, maxVal: 11, stripTop: 3066, stripH: 36, axisY: 3112, labelY: 3173, legendTop: 2371 });
drawManhattan({ name: "fcr4", columns: fcr4Columns, snps: fcr4Snps, ticks: fcr4Ticks, y0: 4151.4, yTop: 3460.7, maxVal: 9, stripTop: 4167, stripH: 38, axisY: 4215, labelY: 4276, legendTop: 3463 });

drawQQ({ name: "fcr1", lineE: qq1LineExpected, lineO: qq1LineObserved, tailE: qq1TailExpected, tailO: qq1TailObserved, yTicks: qq1YTicks, x0: 2300.4, x7: 3088.2, y0: 865.4, yTop: 73.3, maxVal: 8, axisX: 2271, axisTop: 73.3, axisY: 896 });
drawQQ({ name: "fcr2", lineE: qq2LineExpected, lineO: qq2LineObserved, tailE: qq2TailExpected, tailO: qq2TailObserved, yTicks: qq2YTicks, x0: 2293.4, x7: 3062, y0: 1964, yTop: 1157, maxVal: 8, axisX: 2262.6, axisTop: 1157, axisY: 1994.8 });
drawQQ({ name: "fcr3", lineE: qq3LineExpected, lineO: qq3LineObserved, tailE: qq3TailExpected, tailO: qq3TailObserved, yTicks: qq3YTicks, x0: 2249, x7: 3032, y0: 3067.6, yTop: 2262, maxVal: 11, axisX: 2218.4, axisTop: 2262, axisY: 3099 });
drawQQ({ name: "fcr4", lineE: qq4LineExpected, lineO: qq4LineObserved, tailE: qq4TailExpected, tailO: qq4TailObserved, yTicks: qq4YTicks, x0: 2293, x7: 3065, y0: 4163, yTop: 3359, maxVal: 9, axisX: 2262, axisTop: 3359, axisY: 4203 });
</script>
</body>
</html>
